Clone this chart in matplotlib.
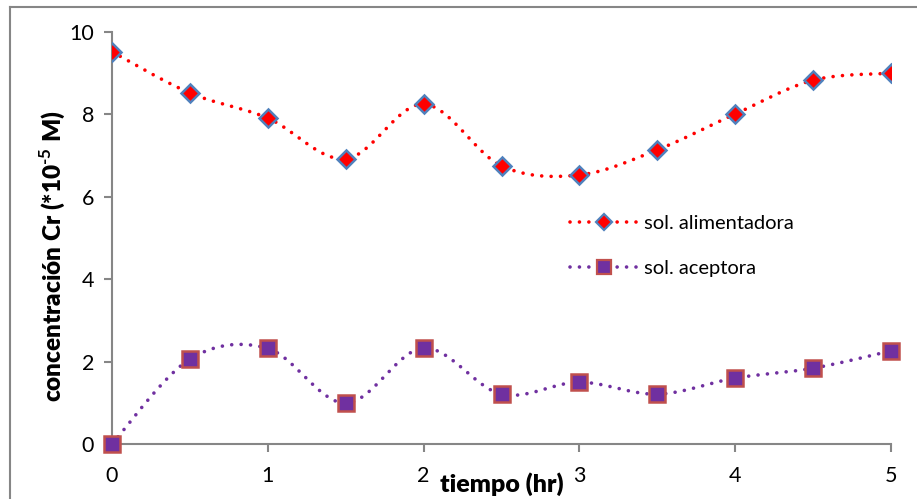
import numpy as np
import matplotlib
matplotlib.use("Agg")
import matplotlib.pyplot as plt
from matplotlib.lines import Line2D

# Data
tiempo = [0, 0.5, 1, 1.5, 2, 2.5, 3, 3.5, 4, 4.5, 5]
alimentadora = [9.52, 8.52, 7.91, 6.92, 8.25, 6.75, 6.53, 7.14, 8.01, 8.83, 9.0]
aceptora = [0.0, 2.06, 2.32, 0.99, 2.33, 1.21, 1.50, 1.21, 1.60, 1.84, 2.26]


# Excel-style smoothed line (Catmull-Rom Bezier segments)
def smooth(x, y, n=40):
    x = np.asarray(x, float)
    y = np.asarray(y, float)
    px = np.concatenate([[x[0]], x, [x[-1]]])
    py = np.concatenate([[y[0]], y, [y[-1]]])
    xs, ys = [], []
    t = np.linspace(0, 1, n)
    for i in range(1, len(x)):
        p0 = np.array([px[i], py[i]])
        p3 = np.array([px[i + 1], py[i + 1]])
        p1 = p0 + (np.array([px[i + 1], py[i + 1]]) - np.array([px[i - 1], py[i - 1]])) / 6
        p2 = p3 - (np.array([px[i + 2], py[i + 2]]) - np.array([px[i], py[i]])) / 6
        b = ((1 - t) ** 3)[:, None] * p0 + (3 * (1 - t) ** 2 * t)[:, None] * p1 \
            + (3 * (1 - t) * t ** 2)[:, None] * p2 + (t ** 3)[:, None] * p3
        xs.extend(b[:, 0])
        ys.extend(b[:, 1])
    return xs, ys


plt.rcParams['font.family'] = ['Lato', 'DejaVu Sans']
plt.rcParams['mathtext.fontset'] = 'custom'
plt.rcParams['mathtext.rm'] = 'Lato:bold'

fig = plt.figure(figsize=(9.17, 4.99), dpi=100)
ax = fig.add_axes([0.1221, 0.1102, 0.8496, 0.8257])

red = '#ff0000'
purple = '#7030a0'
dots = (0, (0.01, 2.6))

sx, sy = smooth(tiempo, alimentadora)
ax.plot(sx, sy, color=red, lw=2.6, linestyle=dots, dash_capstyle='round', zorder=2)
ax.plot(tiempo, alimentadora, linestyle='none', marker='D', ms=9,
        mfc=red, mec='#4f81bd', mew=1.8, zorder=3)

sx, sy = smooth(tiempo, aceptora)
ax.plot(sx, sy, color=purple, lw=2.6, linestyle=dots, dash_capstyle='round', zorder=2)
ax.plot(tiempo, aceptora, linestyle='none', marker='s', ms=11,
        mfc=purple, mec='#c0504d', mew=1.8, zorder=3, clip_on=False)

ax.set_xlim(0, 5)
ax.set_ylim(0, 10)
ax.set_xticks(range(0, 6))
ax.set_yticks(range(0, 11, 2))

for side in ['top', 'right']:
    ax.spines[side].set_visible(False)
for side in ['left', 'bottom']:
    ax.spines[side].set_color('#868686')
    ax.spines[side].set_linewidth(1.5)
ax.tick_params(colors='#868686', labelcolor='black', labelsize=15.5,
               length=6, width=1.5)
ax.tick_params(axis='x', pad=10)
ax.tick_params(axis='y', pad=7)

ax.set_ylabel(r'concentración Cr (*10$^{\text{-5}}$ M)', fontsize=17.5, fontweight='heavy')
ax.set_xlabel('tiempo (hr)', fontsize=18, fontweight='heavy')
ax.xaxis.set_label_coords(0.50, -0.068)
ax.yaxis.set_label_coords(-0.058, 0.456)

h1 = Line2D([], [], color=red, lw=2.6, linestyle=dots, dash_capstyle='round',
            marker='D', ms=8, mfc=red, mec='#4f81bd', mew=1.6)
h2 = Line2D([], [], color=purple, lw=2.6, linestyle=dots, dash_capstyle='round',
            marker='s', ms=10, mfc=purple, mec='#c0504d', mew=1.6)
ax.legend([h1, h2], ['sol. alimentadora', 'sol. aceptora'], loc='upper left',
          bbox_to_anchor=(0.565, 0.6), frameon=False, fontsize=14.5,
          handlelength=3.3, labelspacing=1.4, handletextpad=0.35)

# chart frame (left and top edges visible)
fig.add_artist(Line2D([0.0105, 0.0105], [0, 0.986], color='#868686', lw=1.5))
fig.add_artist(Line2D([0.0105, 1], [0.986, 0.986], color='#868686', lw=1.5))

fig.savefig('out.png', dpi=100)
